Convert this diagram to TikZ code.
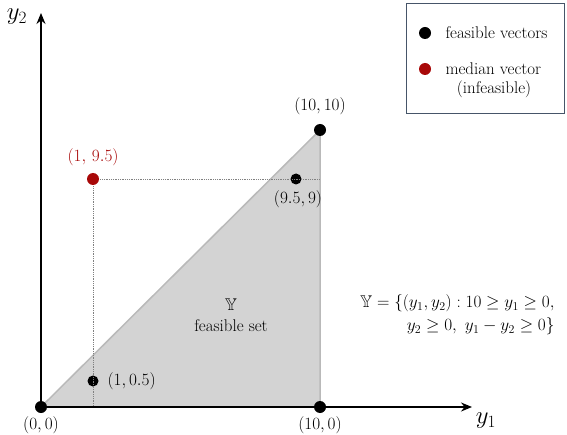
\documentclass[tikz,border=0pt]{standalone}
\usepackage{amssymb}
\usetikzlibrary{arrows.meta}
\definecolor{medred}{RGB}{168,8,8}
\definecolor{setfill}{RGB}{211,211,211}
\definecolor{setedge}{RGB}{185,185,185}
\definecolor{boxedge}{RGB}{70,85,105}
\tikzset{
  fs/.style={font=\fontsize{17}{20}\selectfont},
  axis/.style={line width=2pt, -{Stealth[length=11pt,width=9pt]}},
  bigdot/.style={circle, fill=black, inner sep=0pt, minimum size=12bp},
  middot/.style={circle, fill=black, inner sep=0pt, minimum size=11bp},
  reddot/.style={circle, fill=medred, inner sep=0pt, minimum size=12bp},
  guide/.style={densely dotted, gray, line width=0.8pt},
}
\begin{document}
\begin{tikzpicture}[x=1bp,y=-1bp]
\useasboundingbox (0,0) rectangle (567,435);
% feasible set
\coordinate (O) at (41,407);
\coordinate (A) at (320,130);
\coordinate (B) at (320,407);
\fill[setfill] (O) -- (A) -- (B) -- cycle;
\draw[setedge, line width=1.5pt] (O) -- (A) -- (B);
% guides
\coordinate (M) at (93,179);
\coordinate (Mx) at (320,179);
\coordinate (My) at (93,407);
\draw[guide] (M) -- (Mx);
\draw[guide] (M) -- (My);
% axes
\coordinate (xend) at (472,407);
\coordinate (yend) at (41,13);
\draw[axis] (O) -- (xend);
\draw[axis] (O) -- (yend);
\node[font=\fontsize{27}{30}\selectfont] (y1l) at (486,421) {$y_1$};
\node[font=\fontsize{27}{30}\selectfont] (y2l) at (17,17) {$y_2$};
% points
\node[bigdot] (p00) at (O) {};
\node[bigdot] (p100) at (B) {};
\node[bigdot] (p1010) at (A) {};
\node[middot] (p959) at (296,179) {};
\node[middot] (p105) at (93,381) {};
\node[reddot] (pm) at (M) {};
\draw[guide] (p105.north) -- (p105.south);
\draw[guide] (p959.west) -- (p959.east);
% labels
\node[fs] (l00) at (41,425) {$(0,0)$};
\node[fs] (l100) at (320,425) {$(10,0)$};
\node[fs] (l1010) at (320,106) {$(10,10)$};
\node[fs, text=medred] (lm) at (93,157) {$(1,\,9.5)$};
\node[fs] (l959) at (298,199) {$(9.5,9)$};
\node[fs, anchor=west] (l105) at (104,381) {$(1,0.5)$};
\node[fs, align=center] (setl) at (231,315) {$\mathbb{Y}$\\[1pt]feasible set};
\node[fs, align=right, anchor=east] (defn) at (558,315)
  {$\mathbb{Y}=\{(y_1,y_2):10\geq y_1\geq 0,$\\[3pt]$y_2\geq 0,\ y_1-y_2\geq 0\}$};
% legend
\node[draw=boxedge, line width=0.8pt, minimum width=158bp, minimum height=110bp] (leg) at (485,58) {};
\node[bigdot] (lg1) at (425,33) {};
\node[reddot] (lg2) at (425,69) {};
\node[fs, anchor=west] (lt1) at (442,33) {feasible vectors};
\node[fs, anchor=west] (lt2) at (442,69) {median vector};
\node[fs] (lt3) at (494,89) {(infeasible)};
\end{tikzpicture}
\end{document}
